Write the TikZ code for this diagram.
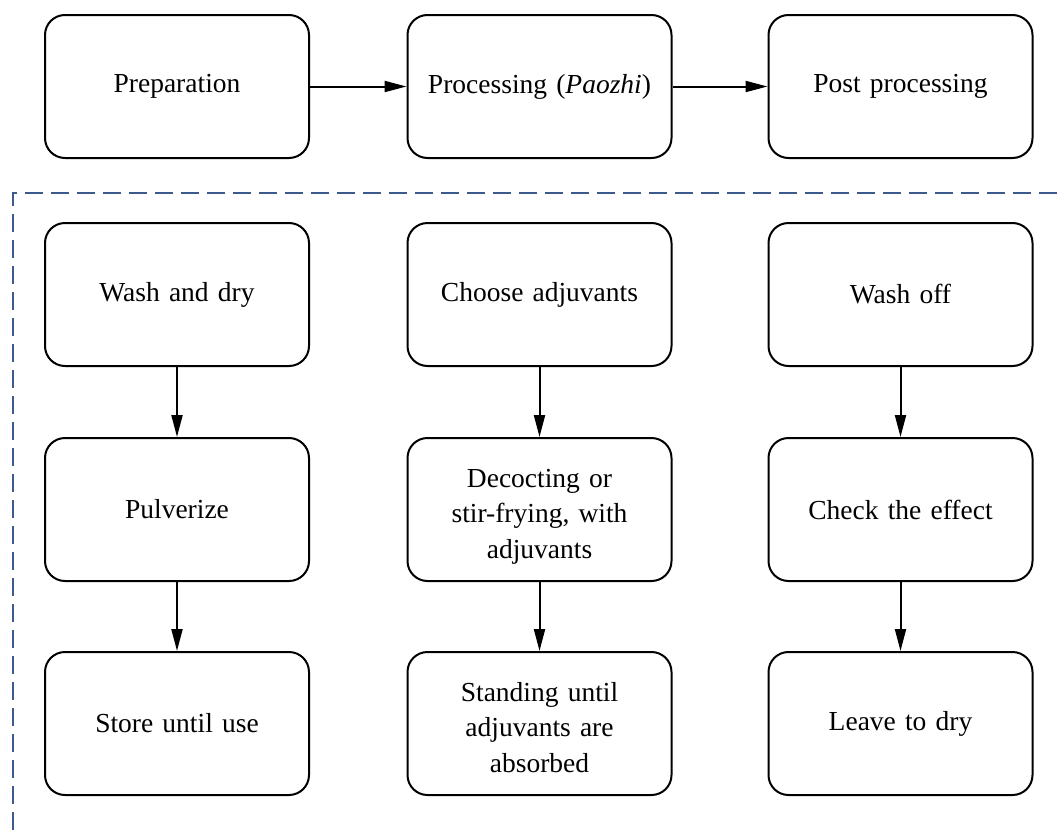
\documentclass[tikz,border=0pt]{standalone}
\usepackage{fontspec}
\setmainfont{Liberation Serif}
\usetikzlibrary{arrows.meta}
\definecolor{dashblue}{HTML}{3D5A8F}
\begin{document}
\begin{tikzpicture}[x=1pt,y=-1pt,
  stepbox/.style={draw=black,line width=2pt,rounded corners=20pt,minimum width=264pt,minimum height=143pt,inner sep=0pt,align=center,text width=240pt,font=\fontsize{27.5}{35.5}\selectfont},
  threeline/.style={text height=19pt,text depth=64pt},
  flow/.style={line width=2pt,-{Triangle[length=22pt,width=11pt]}},
  groupline/.style={draw=dashblue,line width=2pt,dash pattern=on 18pt off 8pt}]
\useasboundingbox (0,0) rectangle (1057,835);
\draw[groupline] (1057,192.5) -- (12.5,192.5) -- (12.5,835);
\node[stepbox] (prep) at (177,86.5) {Preparation};
\node[stepbox] (proc) at (539.5,86.5) {Processing (\textit{Paozhi})};
\node[stepbox] (post) at (900.5,86.5) {Post processing};
\node[stepbox] (a1) at (177,294.5) {Wash and dry};
\node[stepbox] (a2) at (177,509.5) {Pulverize};
\node[stepbox] (a3) at (177,723.5) {Store until use};
\node[stepbox] (b1) at (539.5,294.5) {Choose adjuvants};
\node[stepbox,threeline] (b2) at (539.5,509.5) {Decocting or\\stir-frying, with\\adjuvants};
\node[stepbox,threeline] (b3) at (539.5,723.5) {Standing until\\adjuvants are\\absorbed};
\node[stepbox] (c1) at (900.5,294.5) {Wash off};
\node[stepbox] (c2) at (900.5,509.5) {Check the effect};
\node[stepbox] (c3) at (900.5,723.5) {Leave to dry};
\draw[flow] (prep) -- (proc);
\draw[flow] (proc) -- (post);
\draw[flow] (a1) -- (a2);
\draw[flow] (a2) -- (a3);
\draw[flow] (b1) -- (b2);
\draw[flow] (b2) -- (b3);
\draw[flow] (c1) -- (c2);
\draw[flow] (c2) -- (c3);
\end{tikzpicture}
\end{document}
